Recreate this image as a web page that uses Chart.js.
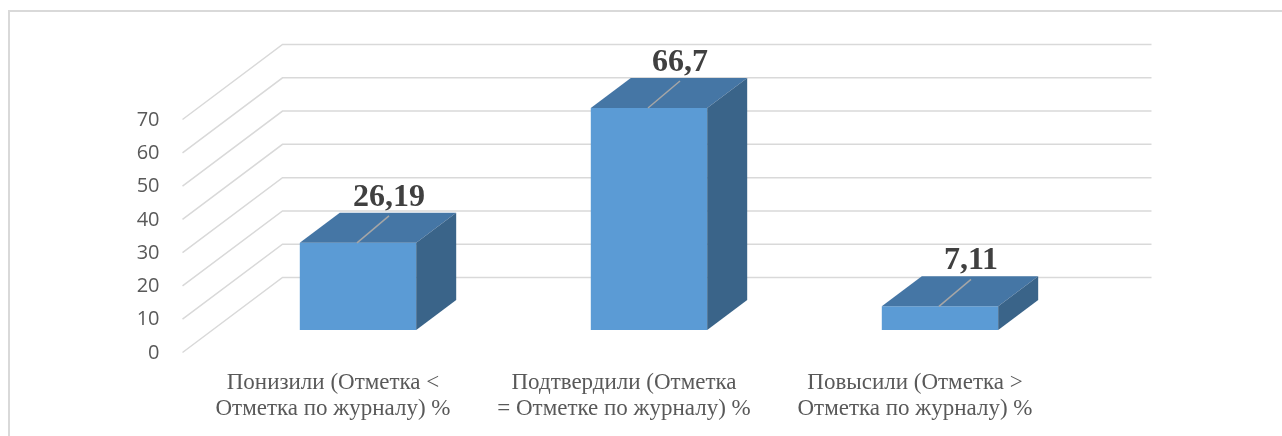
<!DOCTYPE html>
<html>
<head>
<meta charset="utf-8">
<script src="https://cdn.jsdelivr.net/npm/chart.js@4/dist/chart.umd.min.js"></script>
<style>
  body { margin: 0; background: #ffffff; }
  #wrap { position: relative; width: 1282px; height: 436px; }
</style>
</head>
<body>
<div id="wrap"><canvas id="barChart"></canvas></div>
<script>
  // data
  var categories = [
    ['Понизили (Отметка <', 'Отметка по журналу) %'],
    ['Подтвердили (Отметка', '= Отметке по журналу) %'],
    ['Повысили (Отметка >', 'Отметка по журналу) %']
  ];
  var values = [26.19, 66.7, 7.11];
  var yMin = 0;
  var yMax = 70;
  var yStep = 10;

  // fake 3d: depth offsets
  var DEPTH_X = 40, DEPTH_Y = -30;     // bar depth
  var WALL_X = 70, WALL_Y = -52.5;     // back wall
  var FLOOR_X = -30, FLOOR_Y = 22.5;   // front edge of the floor

  var frontColor = '#5b9bd5';
  var topColor = '#4576a5';
  var sideColor = '#3a6489';
  var gridColor = '#d9d9d9';

  function formatValue(v) {
    return String(v).replace('.', ',');
  }

  var box3dPlugin = {
    id: 'box3d',
    beforeDraw: function (chart) {
      var ctx = chart.ctx;
      ctx.save();
      ctx.strokeStyle = gridColor;
      ctx.lineWidth = 2;
      ctx.beginPath();
      ctx.moveTo(9, 436);
      ctx.lineTo(9, 11);
      ctx.lineTo(1282, 11);
      ctx.stroke();
      ctx.restore();
    },
    beforeDatasetsDraw: function (chart) {
      var ctx = chart.ctx;
      var area = chart.chartArea;
      var y = chart.scales.y;
      ctx.save();
      ctx.strokeStyle = gridColor;
      ctx.lineWidth = 1.5;
      y.ticks.forEach(function (tick) {
        var py = y.getPixelForValue(tick.value);
        ctx.beginPath();
        ctx.moveTo(area.left + FLOOR_X, py + FLOOR_Y);
        ctx.lineTo(area.left + WALL_X, py + WALL_Y);
        ctx.lineTo(area.right + WALL_X - 4, py + WALL_Y);
        ctx.stroke();
      });
      ctx.restore();
    },
    afterDatasetsDraw: function (chart) {
      var ctx = chart.ctx;
      var meta = chart.getDatasetMeta(0);
      ctx.save();
      meta.data.forEach(function (bar, i) {
        var p = bar.getProps(['x', 'y', 'base', 'width'], true);
        var l = p.x - p.width / 2;
        var r = p.x + p.width / 2;

        // top face
        ctx.fillStyle = topColor;
        ctx.beginPath();
        ctx.moveTo(l, p.y);
        ctx.lineTo(r, p.y);
        ctx.lineTo(r + DEPTH_X, p.y + DEPTH_Y);
        ctx.lineTo(l + DEPTH_X, p.y + DEPTH_Y);
        ctx.closePath();
        ctx.fill();

        // side face
        ctx.fillStyle = sideColor;
        ctx.beginPath();
        ctx.moveTo(r, p.y);
        ctx.lineTo(r + DEPTH_X, p.y + DEPTH_Y);
        ctx.lineTo(r + DEPTH_X, p.base + DEPTH_Y);
        ctx.lineTo(r, p.base);
        ctx.closePath();
        ctx.fill();

        // leader line + value label
        var ex = p.x + 31;
        var ey = p.y - 27;
        ctx.strokeStyle = '#a6a6a6';
        ctx.lineWidth = 1.5;
        ctx.beginPath();
        ctx.moveTo(p.x - 1, p.y);
        ctx.lineTo(ex, ey);
        ctx.stroke();

        ctx.fillStyle = '#404040';
        ctx.font = 'bold 32px "Liberation Serif", "Times New Roman", serif';
        ctx.textAlign = 'center';
        ctx.textBaseline = 'alphabetic';
        ctx.fillText(formatValue(values[i]), ex, ey - 10);
      });
      ctx.restore();
    }
  };

  var barCanvas = document.getElementById('barChart').getContext('2d');
  var barChart = new Chart(barCanvas, {
    type: 'bar',
    data: {
      labels: categories,
      datasets: [{
        data: values,
        backgroundColor: frontColor,
        borderWidth: 0,
        categoryPercentage: 1,
        barPercentage: 0.4
      }]
    },
    options: {
      responsive: true,
      maintainAspectRatio: false,
      animation: false,
      events: [],
      layout: {
        padding: { left: 132.5, right: 196.5, top: 97, bottom: 14 }
      },
      plugins: {
        legend: { display: false },
        tooltip: { enabled: false }
      },
      scales: {
        x: {
          afterFit: function (scale) {
            scale.height = 92;
          },
          grid: { display: false, drawTicks: false },
          border: { display: false },
          ticks: {
            color: '#595959',
            font: { family: '"Liberation Serif", "Times New Roman", serif', size: 23, lineHeight: 1.13 },
            padding: 40,
            labelOffset: -25,
            maxRotation: 0,
            autoSkip: false
          }
        },
        y: {
          min: yMin,
          max: yMax,
          afterFit: function (scale) {
            scale.width = 80;
          },
          grid: { display: false, drawTicks: false },
          border: { display: false },
          ticks: {
            stepSize: yStep,
            color: '#595959',
            font: { family: '"Open Sans", sans-serif', size: 20 },
            padding: 53,
            labelOffset: 23
          }
        }
      }
    },
    plugins: [box3dPlugin]
  });
</script>
</body>
</html>
